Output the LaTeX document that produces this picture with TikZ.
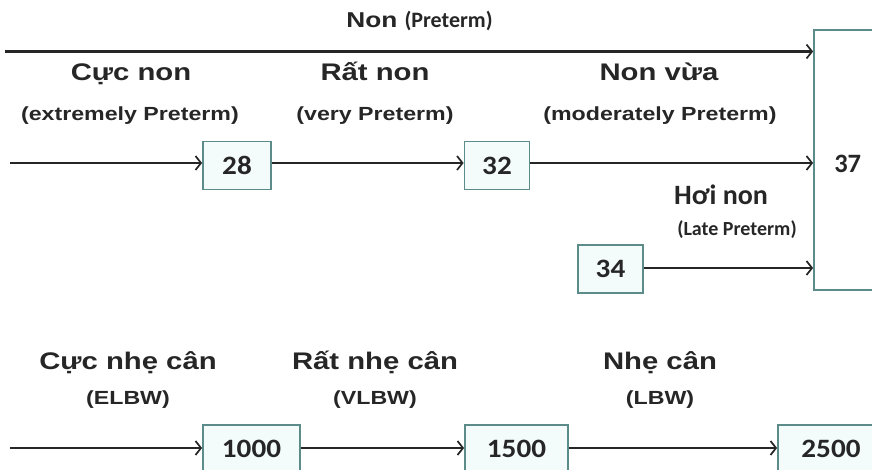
\documentclass[tikz,border=0pt]{standalone}
\usepackage{fontspec}
\setmainfont{Liberation Sans}[FakeStretch=1.22]
\newfontfamily\numfont{Carlito}
\newfontfamily\boxfont{Carlito}[FakeStretch=1.1]
\usetikzlibrary{arrows.meta}
\definecolor{edge}{HTML}{5B8C8A}
\definecolor{boxfill}{HTML}{F4FBFB}
\definecolor{ink}{HTML}{262626}
\begin{document}
\begin{tikzpicture}[x=1pt,y=-1pt,
  numbox/.style={draw=edge, line width=1.8pt, fill=boxfill, minimum height=48pt, inner sep=0pt,
                 font=\boxfont\bfseries\fontsize{26.5}{30}\selectfont, text=ink},
  flow/.style={draw=ink, line width=2.5pt, -{Straight Barb[length=5.5pt,width=14pt,line width=1.7pt]}},
  big/.style={font=\bfseries\fontsize{24}{28}\selectfont, text=ink, inner sep=0pt, anchor=base},
  small/.style={font=\bfseries\fontsize{19}{22}\selectfont, text=ink, inner sep=0pt, anchor=base},
  calbig/.style={font=\numfont\bfseries\fontsize{28}{32}\selectfont, text=ink, inner sep=0pt, anchor=base},
  calsmall/.style={font=\numfont\bfseries\fontsize{20}{24}\selectfont, text=ink, inner sep=0pt, anchor=base}]
\clip (0,0) rectangle (872,470);
\fill[white] (0,0) rectangle (872,470);

% term box on the right
\node[draw=edge, line width=1.8pt, fill=white, minimum width=90pt, minimum height=260pt, inner sep=0pt,
      label={[anchor=west, inner sep=0pt, xshift=21pt, yshift=-4pt,
              font=\numfont\bfseries\fontsize{26.5}{30}\selectfont, text=ink]west:37}] (b37) at (859,160) {};

% gestational-age boxes
\node[numbox, minimum width=68pt] (n28) at (237,165.5) {28};
\node[numbox, minimum width=65pt] (n32) at (497,165.5) {32};
\node[numbox, minimum width=65pt] (n34) at (610.5,269) {34};

% birth-weight boxes
\node[numbox, minimum width=97pt] (w1000) at (251.5,449) {1000};
\node[numbox, minimum width=103pt] (w1500) at (516.5,449) {1500};
\node[numbox, minimum width=106pt] (w2500) at (831,449) {2500};

% start points
\coordinate (s0) at (5,51.5);
\coordinate (s1) at (10,163);
\coordinate (s2) at (10,448);

% connectors
\draw[flow] (s0) -- (s0 -| b37.west);
\draw[flow] (s1) -- (s1 -| n28.west);
\draw[flow] (n28.east |- s1) -- (n32.west |- s1);
\draw[flow] (n32.east |- s1) -- (s1 -| b37.west);
\draw[flow] (n34.east |- 0,268) -- (b37.west |- 0,268);
\draw[flow] (s2) -- (s2 -| w1000.west);
\draw[flow] (w1000.east |- s2) -- (w1500.west |- s2);
\draw[flow] (w1500.east |- s2) -- (w2500.west |- s2);

% labels
\node[big, font=\bfseries\fontsize{21.5}{24}\selectfont] (tNon) at (419.5,28) {Non {\numfont\fontsize{22}{24}\selectfont(Preterm)}};
\node[big] (tCuc) at (131,81) {Cực non};
\node[small] (tCucE) at (130,121) {(extremely Preterm)};
\node[big] (tRat) at (375,81) {Rất non};
\node[small] (tRatE) at (375,121) {(very Preterm)};
\node[big] (tVua) at (659,81) {Non vừa};
\node[small] (tVuaE) at (660,121) {(moderately Preterm)};
\node[calbig] (tHoi) at (721,205) {Hơi non};
\node[calsmall] (tHoiE) at (737,236) {(Late Preterm)};

\node[big] (wCuc) at (128,369) {Cực nhẹ cân};
\node[small] (wCucE) at (128,404) {(ELBW)};
\node[big] (wRat) at (375,369) {Rất nhẹ cân};
\node[small] (wRatE) at (375,404) {(VLBW)};
\node[big] (wNhe) at (660,369) {Nhẹ cân};
\node[small] (wNheE) at (660,404) {(LBW)};
\end{tikzpicture}
\end{document}
